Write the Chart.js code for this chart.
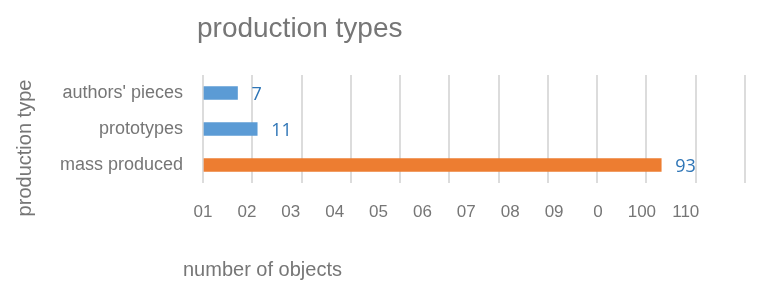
<!DOCTYPE html>
<html>
<head>
<meta charset="utf-8">
<script src="https://cdn.jsdelivr.net/npm/chart.js@4"></script>
<style>
  html, body { margin: 0; padding: 0; background: #fff; }
  #wrap { width: 765px; height: 282px; }
</style>
</head>
<body>
<div id="wrap"><canvas id="chart" width="765" height="282"></canvas></div>
<script>
const categories = ["authors' pieces", 'prototypes', 'mass produced'];
const counts = [7, 11, 93];
const barColors = ['#5b9bd5', '#5b9bd5', '#ed7d31'];
const xTickLabels = ['01', '02', '03', '04', '05', '06', '07', '08', '09', '0', '100', '110'];

const gray = '#767676';

// titles + value labels drawn on top
const extras = {
  id: 'extras',
  afterDatasetsDraw(chart){
    const ctx = chart.ctx;
    const meta = chart.getDatasetMeta(0);
    ctx.save();
    ctx.font = '18px "Open Sans"';
    ctx.fillStyle = '#2e75b6';
    ctx.textAlign = 'left';
    ctx.textBaseline = 'middle';
    meta.data.forEach((el, i) => ctx.fillText(String(counts[i]), el.x + 14, el.y + 2));
    ctx.restore();
  },
  afterDraw(chart){
    const ctx = chart.ctx;
    ctx.save();
    ctx.fillStyle = gray;
    ctx.textBaseline = 'alphabetic';
    ctx.textAlign = 'left';
    ctx.font = '28px "Liberation Sans"';
    ctx.fillText('production types', 197, 37);
    ctx.font = '20px "Liberation Sans"';
    ctx.textBaseline = 'middle';
    ctx.fillText('number of objects', 183, 270);
    ctx.translate(25, 148);
    ctx.rotate(-Math.PI / 2);
    ctx.textAlign = 'center';
    ctx.font = '20px "Liberation Sans"';
    ctx.fillText('production type', 0, 0);
    ctx.restore();
  }
};

new Chart(document.getElementById('chart'), {
  type: 'bar',
  data: {
    labels: categories,
    datasets: [{
      data: counts,
      backgroundColor: barColors,
      barThickness: 13,
      xAxisID: 'x'
    }]
  },
  options: {
    indexAxis: 'y',
    responsive: false,
    animation: false,
    devicePixelRatio: 1,
    layout: { padding: { top: 75, right: 20, left: 0, bottom: 0 } },
    plugins: { legend: { display: false }, tooltip: { enabled: false }, title: { display: false } },
    scales: {
      x: {
        type: 'linear',
        position: 'bottom',
        min: 0, max: 110,
        ticks: { stepSize: 10, display: false },
        grid: { color: '#dcdcdc', lineWidth: 2, drawTicks: false },
        border: { display: false },
        afterFit: s => { s.height = 0; }
      },
      x2: {
        type: 'linear',
        position: 'bottom',
        min: 0, max: 12.35,
        ticks: {
          stepSize: 1,
          autoSkip: false,
          maxRotation: 0,
          padding: 19,
          color: gray,
          font: { family: '"Liberation Sans"', size: 17 },
          callback: v => (Number.isInteger(v) && xTickLabels[v]) ? xTickLabels[v] : ''
        },
        grid: { display: false, drawTicks: false },
        border: { display: false },
        afterFit: s => { s.height = 99; }
      },
      y: {
        ticks: {
          padding: 20,
          color: gray,
          font: { family: '"Liberation Sans"', size: 18 }
        },
        grid: { display: false, drawTicks: false },
        border: { display: false },
        afterFit: s => { s.width = 203; }
      }
    }
  },
  plugins: [extras]
});
</script>
</body>
</html>
